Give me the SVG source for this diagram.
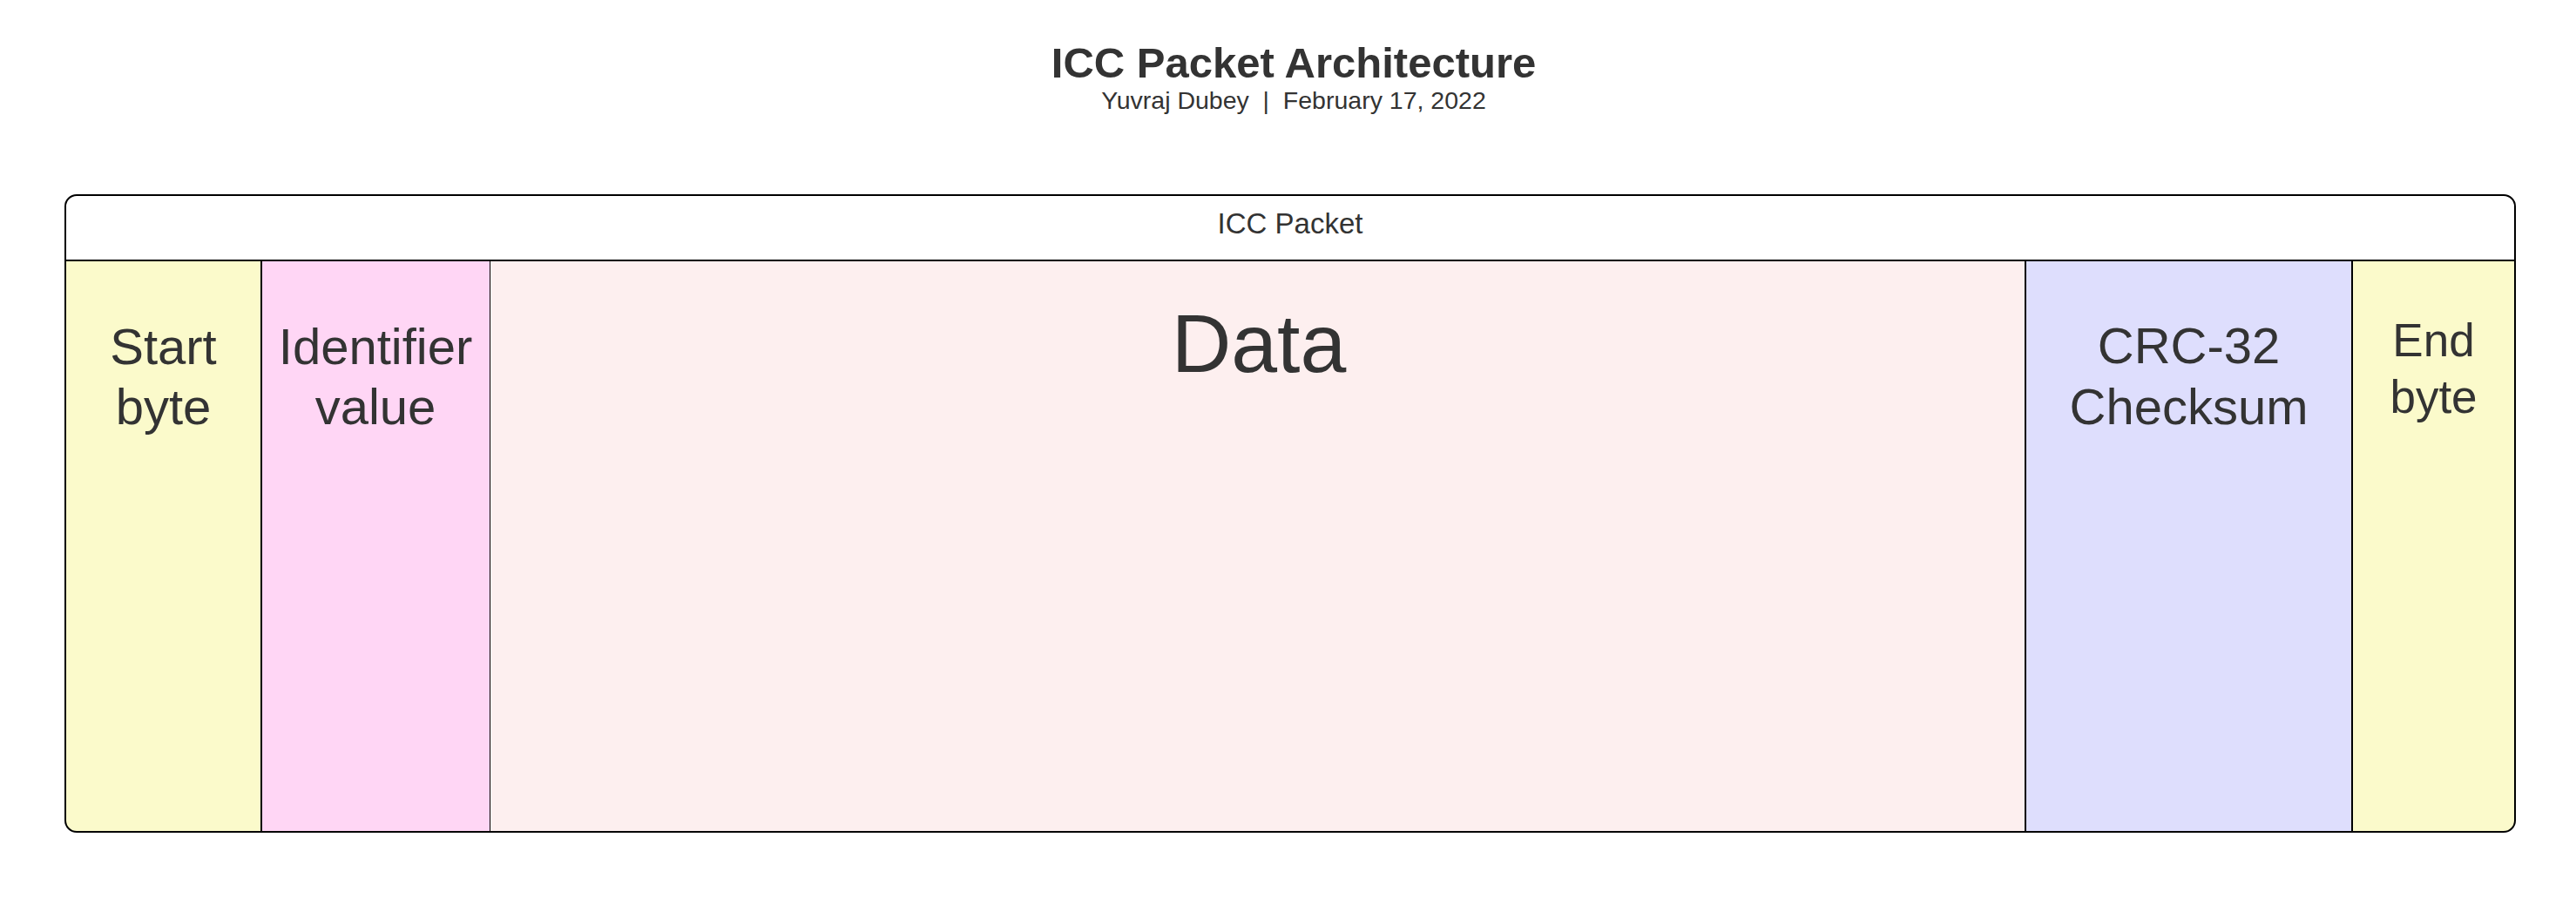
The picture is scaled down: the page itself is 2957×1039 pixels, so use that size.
<svg xmlns="http://www.w3.org/2000/svg" width="2957" height="1039" viewBox="0 0 2957 1039">
<style>
text{font-family:"Liberation Sans",Arial,sans-serif;fill:#333333;text-anchor:middle}
.title{font-size:49px;font-weight:bold}
.sub{font-size:28.5px}
.hdr{font-size:33px}
.lbl{font-size:58px}
.end{font-size:53px}
.data{font-size:95px}
.thick{stroke:#000;stroke-width:2;fill:none}
.thin{stroke:#000;stroke-width:1;fill:none}
</style>
<rect width="2957" height="1039" fill="#ffffff"/>
<g id="title">
<text class="title" x="1485" y="89">ICC Packet Architecture</text>
<text class="sub" x="1485" y="125" xml:space="preserve">Yuvraj Dubey  |  February 17, 2022</text>
</g>
<g id="packet">
<path d="M75,299 V236 Q75,224 87,224 H2875 Q2887,224 2887,236 V299 Z" fill="#ffffff"/>
<text class="hdr" x="1481" y="268">ICC Packet</text>
</g>
<g id="start-byte">
<path d="M75,299 H300 V955 H89 Q75,955 75,941 Z" fill="#fbfacb"/>
<text class="lbl" x="187.5" y="418">Start</text>
<text class="lbl" x="187.5" y="487">byte</text>
</g>
<g id="identifier-value">
<rect x="300" y="299" width="262.5" height="656" fill="#ffd6f5"/>
<text class="lbl" x="431" y="418">Identifier</text>
<text class="lbl" x="431" y="487">value</text>
</g>
<g id="data">
<rect x="562.5" y="299" width="1762.5" height="656" fill="#fdefef"/>
<text class="data" x="1445" y="427">Data</text>
</g>
<g id="crc-32-checksum">
<rect x="2325" y="299" width="375" height="656" fill="#dedefd"/>
<text class="lbl" x="2512.5" y="417">CRC-32</text>
<text class="lbl" x="2512.5" y="487">Checksum</text>
</g>
<g id="end-byte">
<path d="M2700,299 H2887 V941 Q2887,955 2873,955 H2700 Z" fill="#fbfacb"/>
<text class="end" x="2793.5" y="409">End</text>
<text class="end" x="2793.5" y="474">byte</text>
</g>
<g id="borders">
<rect class="thick" x="75" y="224" width="2812" height="731" rx="13" ry="13"/>
<line class="thick" x1="75" y1="299" x2="2887" y2="299"/>
<line class="thick" x1="300" y1="299" x2="300" y2="955"/>
<line class="thin" x1="562.5" y1="299" x2="562.5" y2="955"/>
<line class="thick" x1="2325" y1="299" x2="2325" y2="955"/>
<line class="thick" x1="2700" y1="299" x2="2700" y2="955"/>
</g>
</svg>
